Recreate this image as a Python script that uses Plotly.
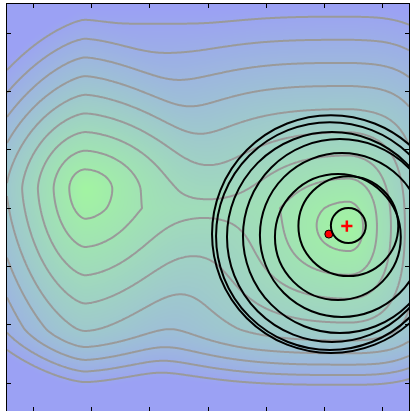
import numpy as np
import plotly.graph_objects as go

# --- surface description ---
hill_x = [-2.11, 2.42]        # hill tops
hill_y = [0.34, -0.32]
hill_left = [2.7, 5.3]        # distance over which each hill falls by 1 ...
hill_right = [4.5, 2.4]
hill_up = [3.2, 4.0]
hill_down = [4.9, 4.1]
hill_corner = [1.5, 3.0]      # corner roundness of the outer rings

ridge_top = 0.72              # saddle ridge between the hills
ridge_y = 0.0
ridge_up = 5.1
ridge_down = 6.0
ridge_end = 1.5

bottom_start = -2.06          # extra steepening near the lower edge
bottom_gain = 0.25
contour_levels = [0.1, 0.9, 0.1]   # start, end, step

# --- search circles (centre x, centre y, radius) ---
circle_cx = [2.109, 2.092, 2.126, 2.263, 2.297, 2.229, 2.409, 2.409]
circle_cy = [-0.446, -0.480, -0.497, -0.480, -0.463, -0.497, -0.309, -0.300]
circle_r = [2.040, 1.954, 1.800, 1.663, 1.406, 1.080, 0.857, 0.300]

mean_x = [2.074]
mean_y = [-0.446]
opt_x = [2.383]
opt_y = [-0.309]

tick_vals = [-3, -2, -1, 0, 1, 2, 3]

xs = np.linspace(-3.45, 3.45, 300)
ys = np.linspace(-3.48, 3.50, 300)
X, Y = np.meshgrid(xs, ys)


def pnorm(a, b, p):
    r2 = np.sqrt(a ** 2 + b ** 2)
    rp = (np.abs(a) ** p + np.abs(b) ** p) ** (1.0 / p)
    w = np.clip(r2 / 0.6, 0, 1)
    return (1 - w) * r2 + w * rp


parts = []
for hx, hy, sl, sr, su, sd, pc in zip(hill_x, hill_y, hill_left, hill_right,
                                      hill_up, hill_down, hill_corner):
    dx = X - hx
    dy = Y - hy
    a = np.where(dx < 0, -dx / sl, dx / sr)
    b = np.where(dy > 0, dy / su, -dy / sd)
    parts.append(1.0 - pnorm(a, b, pc))

x1, x2 = hill_x
ra = np.where(X < x1, (x1 - X) / ridge_end, np.where(X > x2, (X - x2) / ridge_end, 0.0))
oy = Y - ridge_y
rb = np.where(oy > 0, oy / ridge_up, -oy / ridge_down)
parts.append(ridge_top - np.sqrt(ra ** 2 + rb ** 2))

k = 10
P = np.clip(np.stack(parts), 1e-4, None)
Z = (P ** k).sum(axis=0) ** (1.0 / k)
Z = Z - bottom_gain * np.clip(bottom_start - Y, 0, None) ** 1.5

fig = go.Figure()
fig.add_trace(go.Contour(
    x=xs, y=ys, z=Z, zauto=False, zmin=0.05, zmax=1.0,
    colorscale=[[0, '#9ba1f4'], [1, '#a2f4a2']],
    contours=dict(coloring='heatmap', start=contour_levels[0], end=contour_levels[1],
                  size=contour_levels[2], showlabels=False),
    line=dict(color='#9a9a9a', width=2),
    showscale=False, hoverinfo='skip'))

for cx, cy, r in zip(circle_cx, circle_cy, circle_r):
    fig.add_shape(type='circle', xref='x', yref='y',
                  x0=cx - r, x1=cx + r, y0=cy - r, y1=cy + r,
                  line=dict(color='black', width=2))

fig.add_trace(go.Scatter(x=mean_x, y=mean_y, mode='markers', hoverinfo='skip',
                         marker=dict(color='red', size=8, line=dict(color='black', width=1))))
fig.add_trace(go.Scatter(x=opt_x, y=opt_y, mode='markers', hoverinfo='skip',
                         marker=dict(color='red', size=8, symbol='cross-thin',
                                     line=dict(color='red', width=2.5))))

axis = dict(showgrid=False, zeroline=False, showticklabels=False, ticks='inside',
            ticklen=4, tickcolor='black', tickvals=tick_vals, showline=True,
            linecolor='black', linewidth=1, mirror='ticks')
fig.update_layout(
    width=412, height=411, margin=dict(l=7, r=3, t=4, b=0),
    paper_bgcolor='white', plot_bgcolor='white', showlegend=False,
    xaxis=dict(range=[-3.45, 3.45], **axis),
    yaxis=dict(range=[-3.48, 3.50], **axis))
fig.write_html('out.html', config={'displayModeBar': False},
               post_script="document.body.style.margin='0';")
